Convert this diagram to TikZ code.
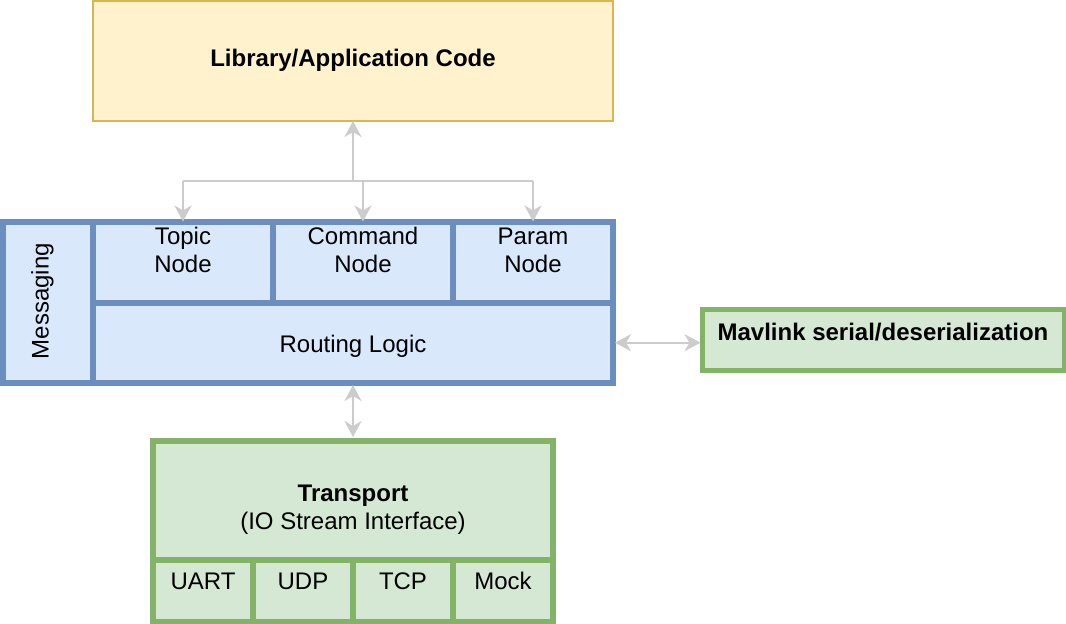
\documentclass[tikz,border=0pt]{standalone}
\usepackage{fontspec}
\setmainfont{Liberation Sans}
\usetikzlibrary{arrows.meta}
\definecolor{bfill}{HTML}{DAE8FC}
\definecolor{bstroke}{HTML}{6C8EBF}
\definecolor{gfill}{HTML}{D5E8D4}
\definecolor{gstroke}{HTML}{82B366}
\definecolor{yfill}{HTML}{FFF2CC}
\definecolor{ystroke}{HTML}{D6B656}
\definecolor{agray}{HTML}{CCCCCC}
\begin{document}
\begin{tikzpicture}[x=1pt,y=-1pt,
  cell/.style={rectangle,inner sep=0pt,outer sep=0pt},
  bluecell/.style={cell,draw=bstroke,fill=bfill,line width=6pt},
  greencell/.style={cell,draw=gstroke,fill=gfill,line width=6pt},
  txt/.style={inner sep=0pt,outer sep=0pt,font=\fontsize{24}{28}\selectfont,align=center},
  conn/.style={draw=agray,line width=2pt},
  tip/.style={-{Stealth[length=16pt,width=17pt,inset=5pt]}},
  dtip/.style={{Stealth[length=16pt,width=17pt,inset=5pt]}-{Stealth[length=16pt,width=17pt,inset=5pt]}}
]
\useasboundingbox (0,0) rectangle (1066,624);
\fill[white] (0,0) rectangle (1066,624);

% Library / Application code
\node[cell,draw=ystroke,fill=yfill,line width=2pt,minimum width=520pt,minimum height=120pt] (lib) at (353,61) {};
\node[txt,anchor=base] (libt) at (353,66) {\bfseries Library/Application Code};

% Messaging group
\node[bluecell,minimum width=90pt,minimum height=161.5pt] (msg) at (48,302.25) {};
\node[bluecell,minimum width=180pt,minimum height=81.5pt] (topic) at (183,262.25) {};
\node[bluecell,minimum width=180pt,minimum height=81.5pt] (command) at (363,262.25) {};
\node[bluecell,minimum width=160pt,minimum height=81.5pt] (param) at (533,262.25) {};
\node[bluecell,minimum width=520pt,minimum height=80pt] (routing) at (353,343) {};
\node[txt,rotate=90,anchor=base] (msgt) at (48.5,301) {Messaging};
\node[txt,anchor=north] (topict) at (183,226.8) {Topic\\Node};
\node[txt,anchor=north] (commandt) at (363,226.8) {Command\\Node};
\node[txt,anchor=north] (paramt) at (533,227.6) {Param\\Node};
\node[txt,anchor=base] (routingt) at (353,352) {Routing Logic};

% Mavlink
\node[cell,draw=gstroke,fill=gfill,line width=5pt,minimum width=361.5pt,minimum height=61pt] (mav) at (883.25,339.5) {};
\node[txt,anchor=base] (mavt) at (883,340) {\bfseries Mavlink serial/deserialization};

% Transport group
\node[greencell,minimum width=400pt,minimum height=119pt] (transport) at (353,500.5) {};
\node[greencell,minimum width=100pt,minimum height=62pt] (uart) at (203,591) {};
\node[greencell,minimum width=100pt,minimum height=62pt] (udp) at (303,591) {};
\node[greencell,minimum width=100pt,minimum height=62pt] (tcp) at (403,591) {};
\node[greencell,minimum width=100pt,minimum height=62pt] (mock) at (503,591) {};
\node[txt,anchor=north] (transportt) at (353,484.5) {\bfseries Transport\\(IO Stream Interface)};
\node[txt,anchor=base] (uartt) at (203,589.5) {UART};
\node[txt,anchor=base] (udpt) at (303,589.5) {UDP};
\node[txt,anchor=base] (tcpt) at (403,589.5) {TCP};
\node[txt,anchor=base] (mockt) at (503,589.5) {Mock};

% Connectors
\coordinate (j) at (353,181);
\draw[conn] (j -| topic.north) -- (j -| param.north);
\draw[conn,tip] (j) -- (lib.south);
\draw[conn,tip] (j -| topic.north) -- (topic.north);
\draw[conn,tip] (j -| command.north) -- (command.north);
\draw[conn,tip] (j -| param.north) -- (param.north);
\draw[conn,dtip,shorten <=2pt,shorten >=2pt] (routing.east |- 0,342.7) -- (mav.west |- 0,342.7);
\draw[conn,dtip,shorten <=2pt,shorten >=4pt] (routing.south) -- (transport.north);
\end{tikzpicture}
\end{document}
